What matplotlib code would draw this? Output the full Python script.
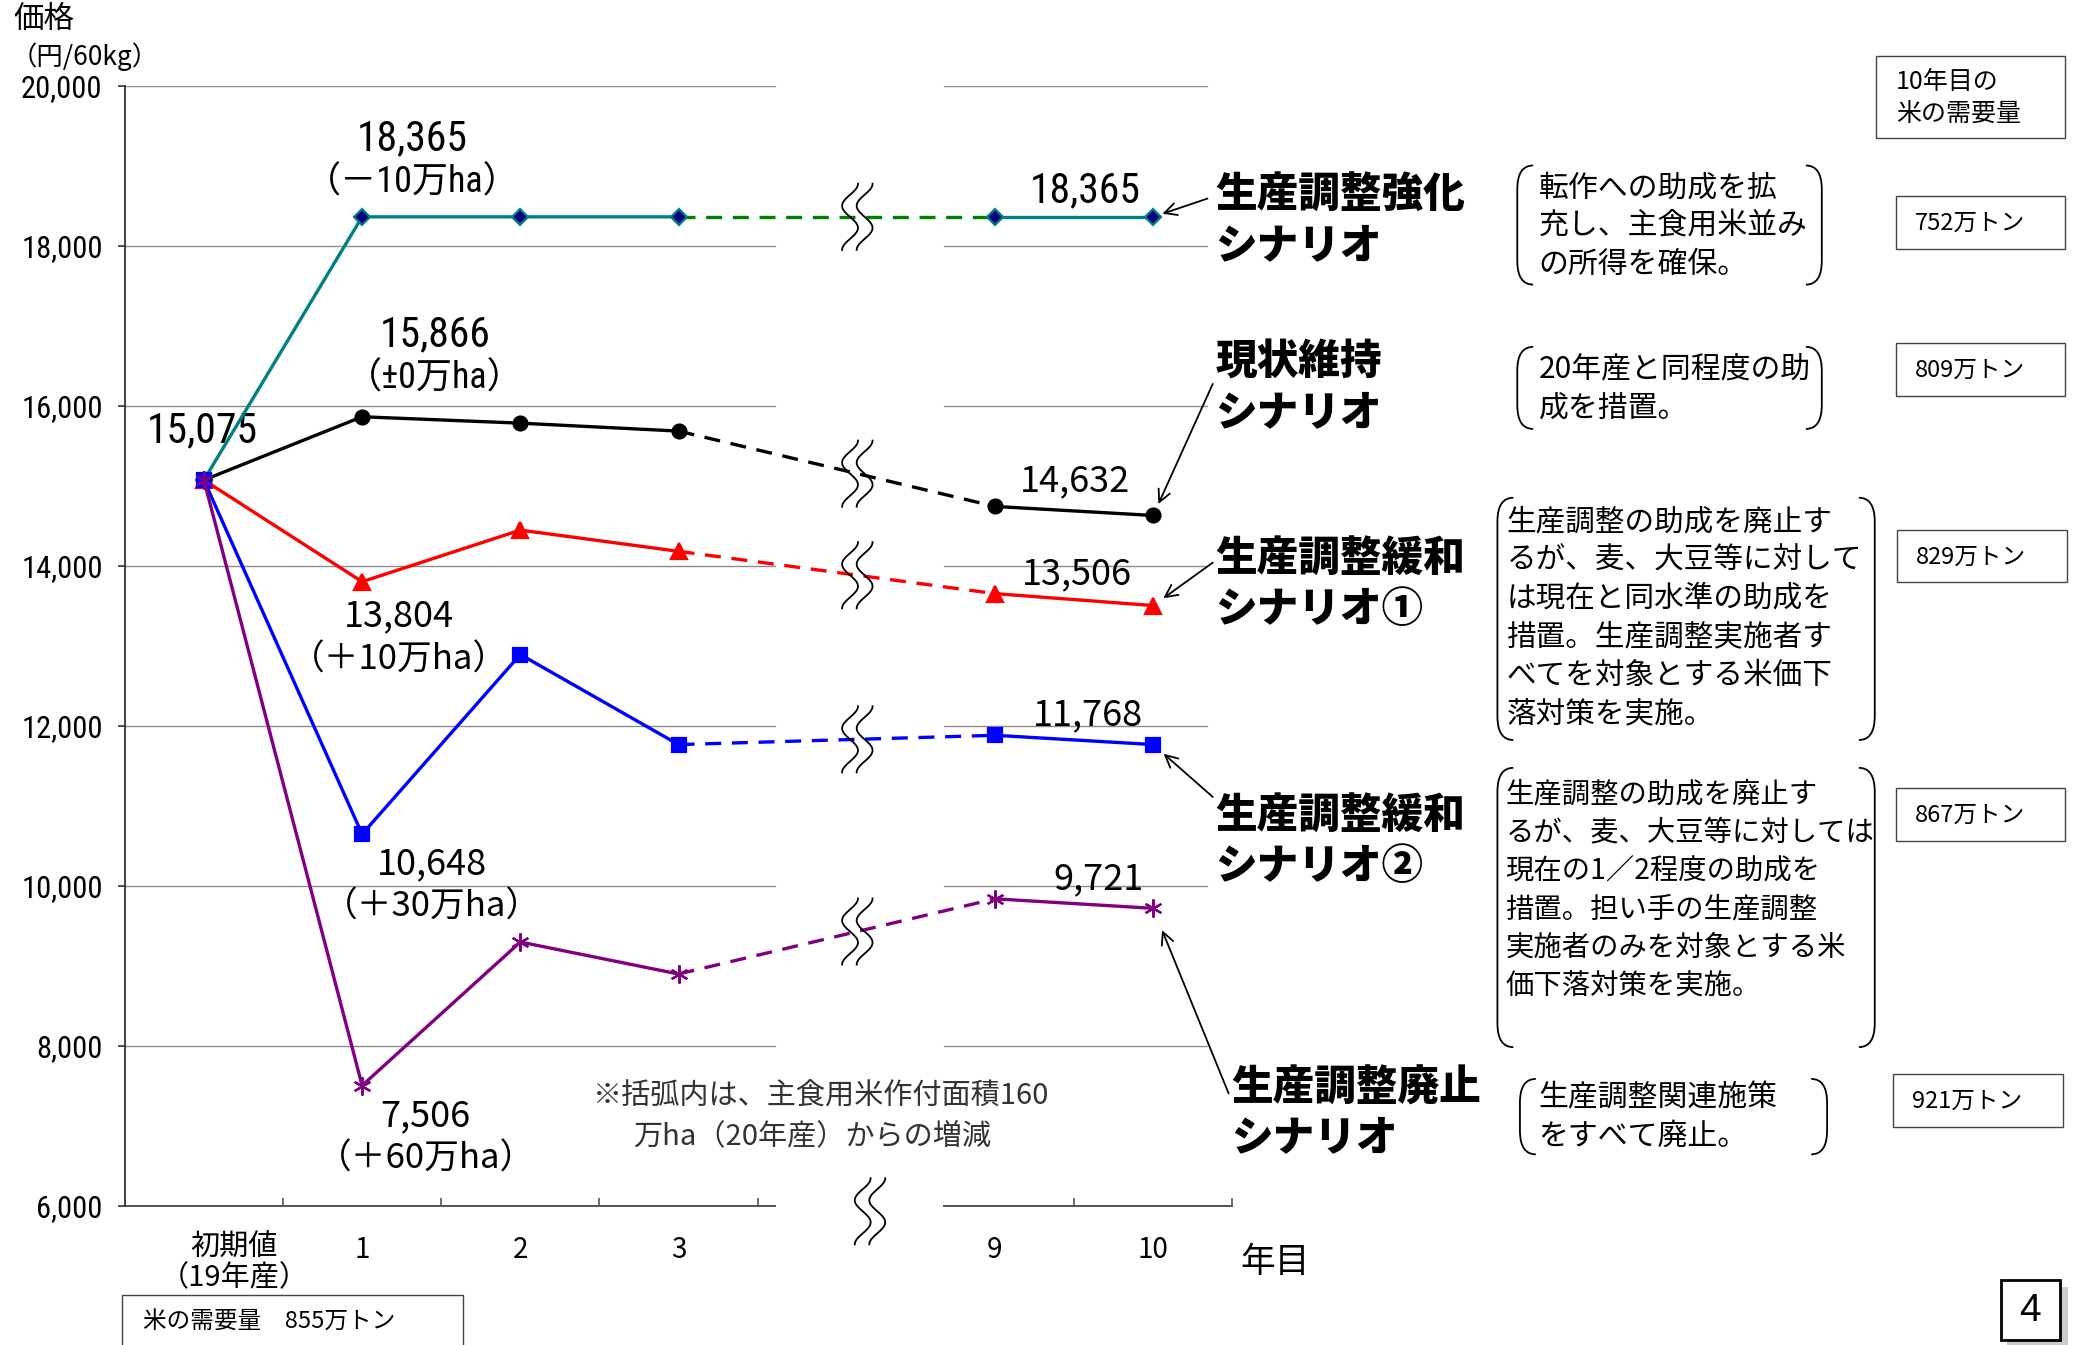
import numpy as np
import matplotlib
matplotlib.use("Agg")
import matplotlib.pyplot as plt
from matplotlib.transforms import Affine2D
from matplotlib.patches import Rectangle, PathPatch
from matplotlib.path import Path

plt.rcParams['font.family'] = ['Noto Sans CJK JP', 'DejaVu Sans']
NARROW = ['Roboto Condensed', 'IBM Plex Sans Condensed', 'Noto Sans CJK JP', 'DejaVu Sans']

# --- data ---
years = ['初期値\n（19年産）', '1', '2', '3', '9', '10']
kyoka = [15075, 18365, 18365, 18365, 18365, 18365]
genjo = [15075, 15866, 15786, 15687, 14745, 14632]
kanwa1 = [15075, 13804, 14449, 14184, 13655, 13506]
kanwa2 = [15075, 10648, 12894, 11768, 11884, 11768]
haishi = [15075, 7506, 9300, 8900, 9840, 9721]
area_chg = ['（－10万ha）', '（±0万ha）', '（＋10万ha）', '（＋30万ha）', '（＋60万ha）']
scen_names = [['生産調整強化', 'シナリオ'], ['現状維持', 'シナリオ'],
              ['生産調整緩和', 'シナリオ①'], ['生産調整緩和', 'シナリオ②'],
              ['生産調整廃止', 'シナリオ']]
descs = [['転作への助成を拡', '充し、主食用米並み', 'の所得を確保。'],
         ['20年産と同程度の助', '成を措置。'],
         ['生産調整の助成を廃止す', 'るが、麦、大豆等に対して', 'は現在と同水準の助成を',
          '措置。生産調整実施者す', 'べてを対象とする米価下', '落対策を実施。'],
         ['生産調整の助成を廃止す', 'るが、麦、大豆等に対しては', '現在の1／2程度の助成を',
          '措置。担い手の生産調整', '実施者のみを対象とする米', '価下落対策を実施。'],
         ['生産調整関連施策', 'をすべて廃止。']]
demand = ['752万トン', '809万トン', '829万トン', '867万トン', '921万トン']
yticks = [6000, 8000, 10000, 12000, 14000, 16000, 18000, 20000]

# reference layout is measured on a 1568x1016 copy
W, H = 1568, 1016
PT = 0.953  # points per reference pixel

fig = plt.figure(figsize=(20.76, 13.45), dpi=100)
T = Affine2D().scale(1 / W, -1 / H).translate(0, 1) + fig.transFigure

def ftext(x, y, s, **kw):
    kw.setdefault('va', 'center')
    return fig.text(x, y, s, transform=T, **kw)

ax = fig.add_axes([94.25 / W, 1 - 911 / H, 836.5 / W, 846 / H])
ax.set_xlim(-0.5, 6.5)
ax.set_ylim(6000, 20000)

# years 9 and 10 sit after a gap of one slot
pos = np.array([i if i < 4 else i + 1 for i in range(len(years))])
seg1 = (-0.5, 3.607)
seg2 = (4.678, 6.343)

for yv in yticks[1:]:
    ax.plot(seg1, [yv, yv], color='#8c8c8c', lw=1.0, zorder=1)
    ax.plot(seg2, [yv, yv], color='#8c8c8c', lw=1.0, zorder=1)
ax.plot(seg1, [6000, 6000], color='#555555', lw=1.4, zorder=2, clip_on=False)
ax.plot((seg2[0], 6.5), [6000, 6000], color='#555555', lw=1.4, zorder=2, clip_on=False)

for s in ['top', 'right', 'bottom']:
    ax.spines[s].set_visible(False)
ax.spines['left'].set_color('#333333')
ax.spines['left'].set_linewidth(1.3)

ax.set_yticks(yticks)
ax.set_yticklabels([f'{v:,}' for v in yticks], fontfamily=NARROW, fontsize=22)
ax.tick_params(axis='y', direction='out', length=5, width=1.2, pad=11, colors='#333333', labelcolor='black')
ax.set_xticks(pos)
ax.set_xticklabels([''] + years[1:], fontsize=20)
ax.tick_params(axis='x', which='major', length=0, pad=21)
ax.set_xticks([0.5, 1.5, 2.5, 3.5, 5.5, 6.5], minor=True)
ax.tick_params(axis='x', which='minor', direction='in', length=6, width=1.2, color='#555555')
ax.annotate(years[0], xy=(0, 6000), xytext=(23 * PT, -20 * PT), textcoords='offset points',
            ha='center', va='top', fontsize=21, linespacing=1.05, annotation_clip=False)

series = [
    (kyoka, '#008080', '#008000', 'D', 8.5, '#000080'),
    (genjo, 'black', 'black', 'o', 10, 'black'),
    (kanwa1, '#ff0000', '#ff0000', '^', 11, '#ff0000'),
    (kanwa2, '#0000ff', '#0000ff', 's', 10, '#0000ff'),
    (haishi, '#800080', '#800080', (6, 2, 0), 13, '#800080'),
]
for vals, c, dc, m, ms, mfc in series:
    v = np.array(vals)
    ax.plot(pos[3:5], v[3:5], color=dc, lw=2.4, ls=(0, (4.8, 3.2)), zorder=3)
for vals, c, dc, m, ms, mfc in series:
    v = np.array(vals)
    for sl in (slice(0, 4), slice(4, 6)):
        ax.plot(pos[sl], v[sl], color=c, lw=2.4, marker=m, ms=ms, mfc=mfc,
                mec=c if m != (6, 2, 0) else mfc, mew=1.6, zorder=4, clip_on=False)

# wave break marks
def wave(xc, yc, height=50, amp=6, gap=11):
    s = np.linspace(0, 1, 60)
    for off in (-gap / 2, gap / 2):
        xs = xc + off + amp * np.cos(3 * np.pi * s)
        ys = yc - height / 2 + height * s
        ax.plot(xs, ys, color='black', lw=1.3, transform=T, clip_on=False, zorder=6)

to_ref = T.inverted()
for vals, *_ in series:
    xb = 4.13
    yb = np.interp(xb, pos, vals)
    cx, cy = to_ref.transform(ax.transData.transform((xb, yb)))
    wave(cx, cy)
cx, cy = to_ref.transform(ax.transData.transform((4.21, 6000)))
wave(cx, cy + 4)

# value labels
def lab(x, y, dx, dy, s, fam, size):
    ax.annotate(s, xy=(x, y), xytext=(dx * PT, dy * PT), textcoords='offset points',
                ha='center', va='center', fontfamily=fam, fontsize=size, annotation_clip=False)

lab(0, kyoka[0], -1, 37, f'{kyoka[0]:,}', NARROW, 30)
year1 = [(kyoka, 38, 59, 26, NARROW, 30, 26),
         (genjo, 55, 62, 29, NARROW, 30, 26),
         (kanwa1, 28, -26, -59, None, 26, 25),
         (kanwa2, 53, -23, -55, None, 26, 25),
         (haishi, 48, -23, -56, None, 26, 25)]
for (vals, dx, dy1, dy2, fam, s1, s2), chg in zip(year1, area_chg):
    lab(1, vals[1], dx, dy1, f'{vals[1]:,}', fam, s1)
    lab(1, vals[1], dx, dy2, chg, fam, s2)

year10 = [(kyoka, -51, 20, NARROW, 30), (genjo, -59, 26, None, 26),
          (kanwa1, -58, 24, None, 26), (kanwa2, -49, 22, None, 26),
          (haishi, -41, 22, None, 26)]
for vals, dx, dy, fam, size in year10:
    lab(6, vals[-1], dx, dy, f'{vals[-1]:,}', fam, size)

# scenario names with arrows
name_pos = [(918, 148), (918, 274), (918, 423), (918, 617), (930, 822)]
arrow_tail = [(912, 150), (916, 290), (916, 425), (916, 602), (928, 826)]
shrink = [7, 9, 9, 10, 17]
for (nx, ny), lines, tail, sh, (vals, *_) in zip(name_pos, scen_names, arrow_tail, shrink, series):
    for k, ln in enumerate(lines):
        ftext(nx, ny + 38 * k, ln, fontsize=30, fontweight=900, ha='left')
    ax.annotate('', xy=(6, vals[-1]), xycoords='data', xytext=tail, textcoords=T,
                arrowprops=dict(arrowstyle='->', lw=1.3, color='black', shrinkA=0,
                                shrinkB=sh, mutation_scale=22), annotation_clip=False)

# description brackets
def bracket(xl, xr, yt, yb, cw=12, ch=18):
    for x0, sgn in ((xl, 1), (xr, -1)):
        verts = [(x0 + sgn * cw, yt), (x0, yt), (x0, yt + ch), (x0, yb - ch),
                 (x0, yb), (x0 + sgn * cw, yb)]
        codes = [Path.MOVETO, Path.CURVE3, Path.CURVE3, Path.LINETO, Path.CURVE3, Path.CURVE3]
        fig.patches.append(PathPatch(Path(verts, codes), fill=False, lw=1.3,
                                     edgecolor='black', transform=T))

brk = [(1146, 1376, 125, 215, 1162, 142, 21.5),
       (1146, 1376, 262, 324, 1162, 279, 21.5),
       (1131, 1416, 376, 559, 1138, 394, 21.3),
       (1131, 1416, 580, 791, 1137, 600, 20.4),
       (1148, 1380, 815, 872, 1162, 829, 21.5)]
for (xl, xr, yt, yb, tx, ty, fs), lines in zip(brk, descs):
    bracket(xl, xr, yt, yb)
    for k, ln in enumerate(lines):
        ftext(tx, ty + 29 * k, ln, fontsize=fs, ha='left')

# demand boxes
def box(x, y, w, h, lw=1.0, fc='none', ec='#444444', z=1):
    fig.patches.append(Rectangle((x, y), w, h, transform=T, fill=fc != 'none',
                                 facecolor=fc, edgecolor=ec, lw=lw, zorder=z))

box(1417, 42, 143, 62)
ftext(1432, 62, '10年目の', fontsize=18, ha='left')
ftext(1432, 87, '米の需要量', fontsize=18, ha='left')
dem_box = [(1432, 148), (1432, 259), (1433, 400), (1432, 595), (1430, 811)]
for (bx, by), d in zip(dem_box, demand):
    box(bx, by, 128, 40)
    ftext(bx + 14, by + 21, d, fontsize=17, ha='left')

box(92, 978, 258, 50)
ftext(108, 998, '米の需要量　855万トン', fontsize=17, ha='left')

# axis captions and note
ftext(10, 15, '価格', fontsize=22, ha='left')
ftext(8, 43, '（円/60kg）', fontsize=19, ha='left')
ftext(963, 954, '年目', fontsize=25, ha='center')
ftext(448, 828, '※括弧内は、主食用米作付面積160', fontsize=21, ha='left', color='#333333')
ftext(478, 858, '万ha（20年産）からの増減', fontsize=21, ha='left', color='#333333')

# page number
box(1516, 972, 46, 46, lw=0, fc='#cccccc', ec='none', z=0)
box(1511, 967, 45, 45, lw=2.0, fc='white', ec='black', z=1)
ftext(1533.5, 990, '4', fontsize=28, ha='center', fontfamily=['Liberation Sans', 'DejaVu Sans'])

fig.savefig('out.png', dpi=100)
